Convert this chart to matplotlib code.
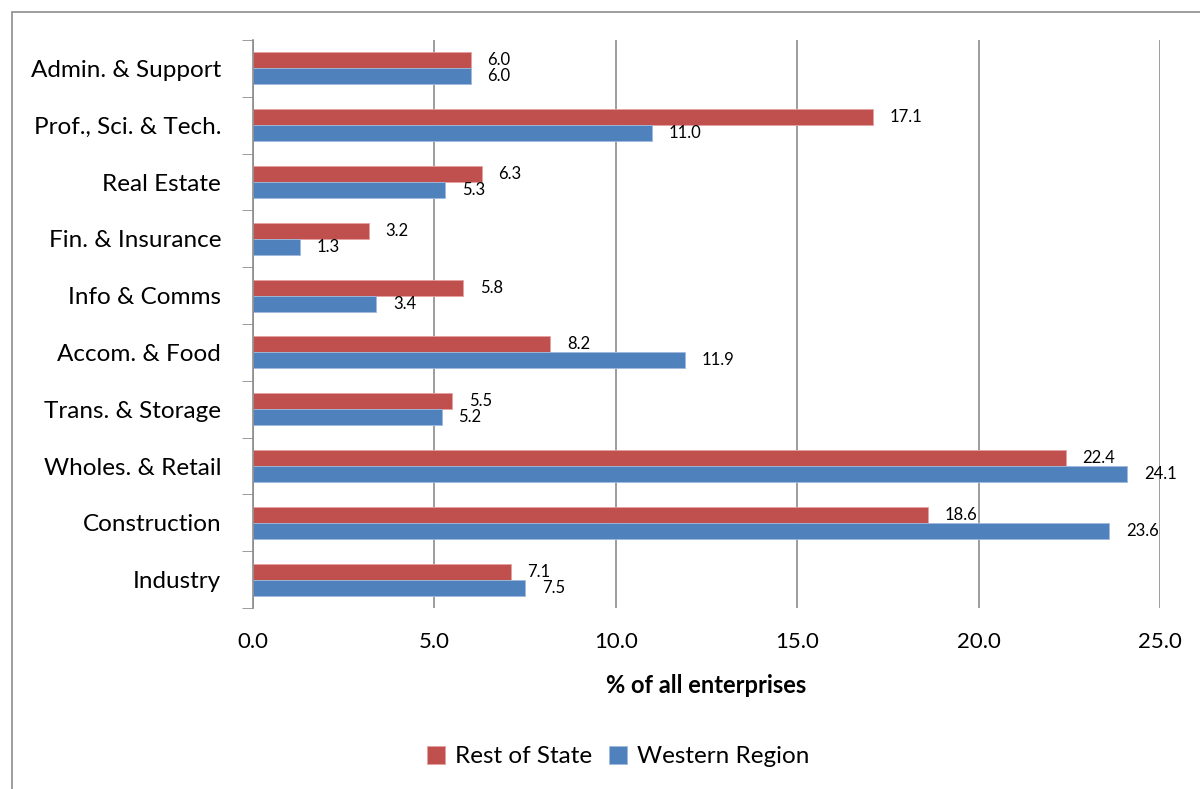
import matplotlib
matplotlib.use('Agg')
import matplotlib.pyplot as plt
import matplotlib.patches as mpatches
import numpy as np

plt.rcParams['font.family'] = ['Lato', 'DejaVu Sans']

# bottom to top, as drawn
sectors = ['Industry', 'Construction', 'Wholes. & Retail', 'Trans. & Storage',
           'Accom. & Food', 'Info & Comms', 'Fin. & Insurance', 'Real Estate',
           'Prof., Sci. & Tech.', 'Admin. & Support']
rest_of_state = [7.1, 18.6, 22.4, 5.5, 8.2, 5.8, 3.2, 6.3, 17.1, 6.0]
western_region = [7.5, 23.6, 24.1, 5.2, 11.9, 3.4, 1.3, 5.3, 11.0, 6.0]
x_ticks = [0, 5, 10, 15, 20, 25]

red = '#C0504D'
blue = '#4F81BD'

fig = plt.figure(figsize=(12, 7.89), dpi=100)
ax = fig.add_axes([0.2108, 0.2294, 0.7558, 0.7199])

# outer frame of the chart object
fig.patches.append(mpatches.Rectangle((0.01, -0.05), 1.2, 1.0348,
                                      transform=fig.transFigure, fill=False,
                                      edgecolor='#8c8c8c', linewidth=1.2))

y = np.arange(len(sectors))
h = 0.28
bars_r = ax.barh(y + h / 2, rest_of_state, h, color=red, edgecolor='#e6a09e',
                 linewidth=0.6, label='Rest of State')
bars_b = ax.barh(y - h / 2, western_region, h, color=blue, edgecolor='#9fb9dc',
                 linewidth=0.6, label='Western Region')

for bars in [bars_r, bars_b]:
    for bar in bars:
        w = bar.get_width()
        ax.annotate(f'{w:.1f}', (w, bar.get_y() + bar.get_height() / 2),
                    xytext=(12, 0), textcoords='offset points',
                    ha='left', va='center', fontsize=12)

ax.set_xlim(0, 25)
ax.set_ylim(-0.5, len(sectors) - 0.5)
ax.set_xticks(x_ticks)
ax.set_xticklabels([f'{v:.1f}' for v in x_ticks], fontsize=16)
ax.set_yticks(y)
ax.set_yticklabels(sectors, fontsize=17.5)
ax.set_yticks(np.arange(-0.5, len(sectors), 1), minor=True)
ax.tick_params(axis='y', which='major', length=0, pad=23)
ax.tick_params(axis='y', which='minor', length=8, color='#8c8c8c', direction='out')
ax.tick_params(axis='x', length=0, pad=17)

ax.grid(axis='x', color='#8c8c8c', linewidth=1.2)
ax.set_axisbelow(True)
for s in ['top', 'right', 'bottom']:
    ax.spines[s].set_visible(False)
ax.spines['left'].set_color('#8c8c8c')
ax.spines['left'].set_linewidth(1.2)

ax.set_xlabel('% of all enterprises', fontsize=17, fontweight='bold', labelpad=16)

handles, labels = ax.get_legend_handles_labels()
fig.legend(handles, labels, loc='center', bbox_to_anchor=(0.515, 0.041), ncol=2,
           frameon=False, fontsize=17.5, handlelength=0.75, handleheight=0.75,
           handletextpad=0.4, columnspacing=0.7)

fig.savefig('out.png', dpi=100)
